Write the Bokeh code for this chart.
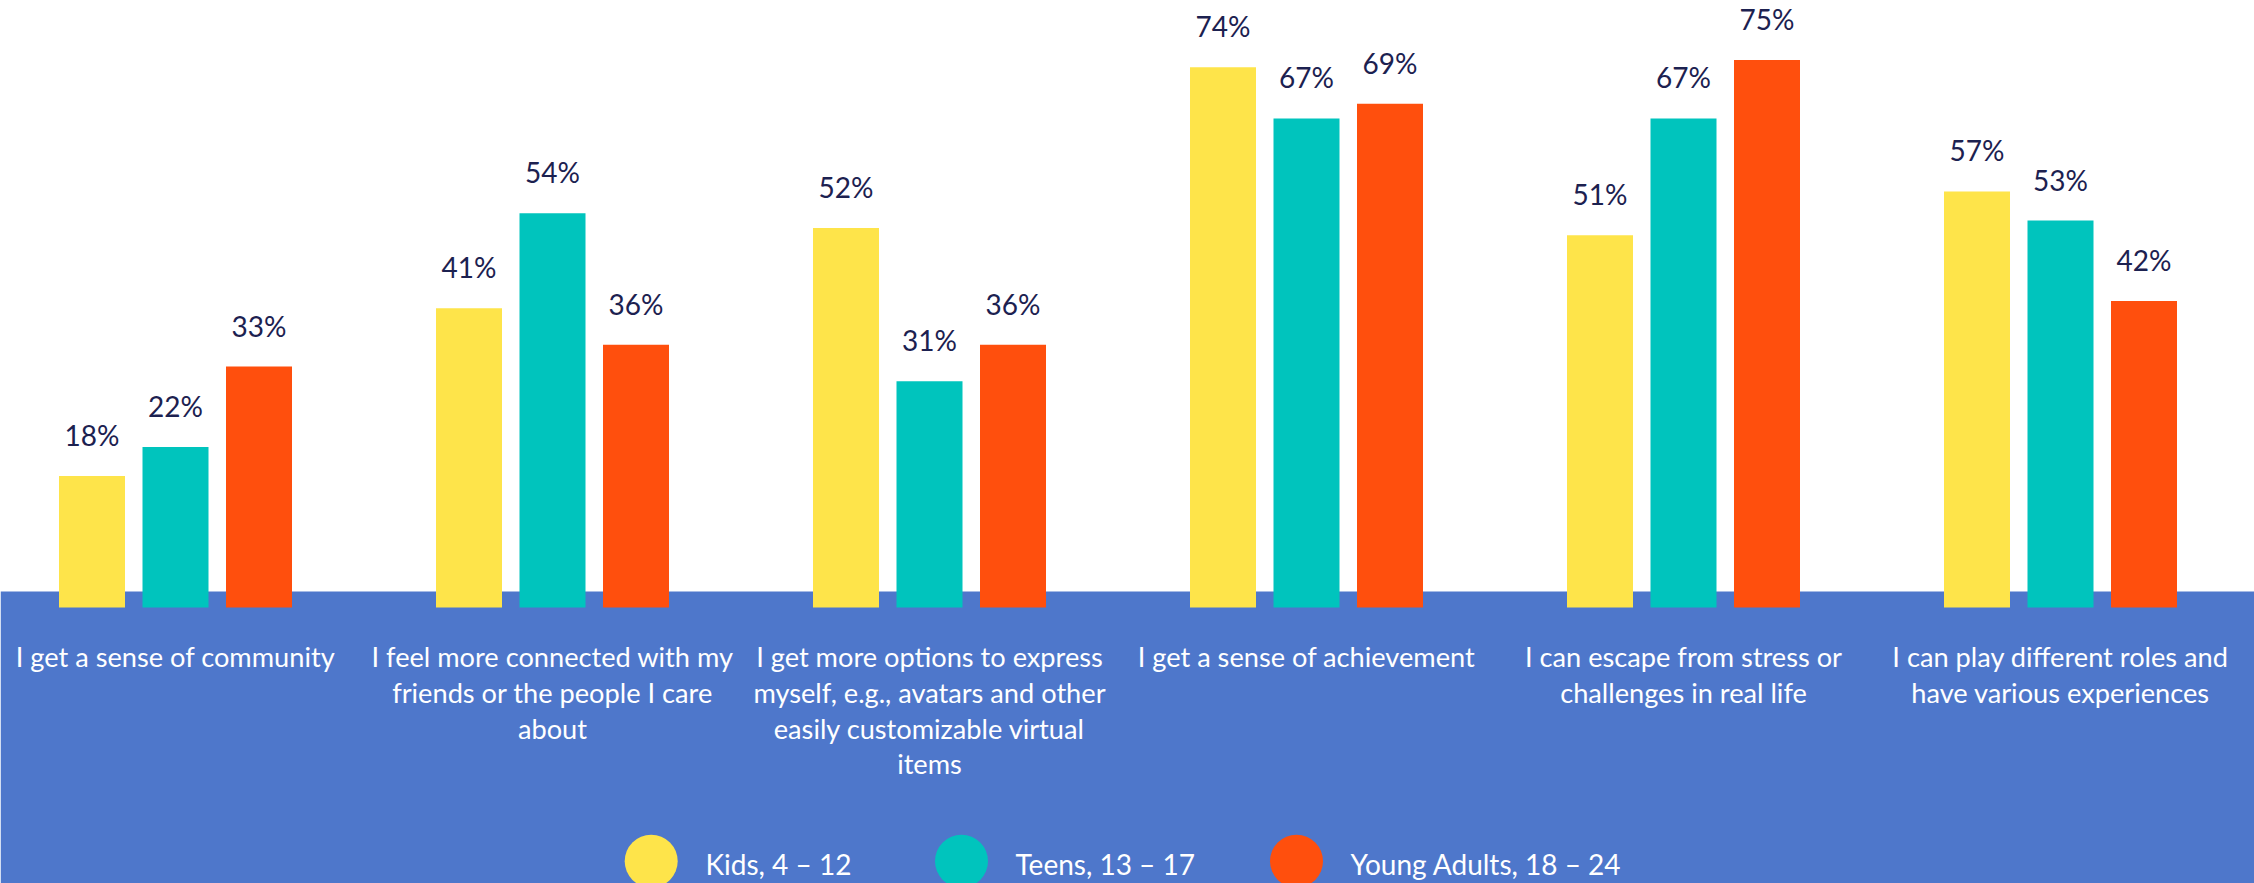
from bokeh.plotting import figure
from bokeh.models import ColumnDataSource, Range1d, BoxAnnotation
from bokeh.transform import dodge
from bokeh.core.properties import value
from bokeh.embed import file_html
from bokeh.resources import INLINE

# ---- data ----
categories = [
    ["I get a sense of community"],
    ["I feel more connected with my", "friends or the people I care", "about"],
    ["I get more options to express", "myself, e.g., avatars and other",
     "easily customizable virtual", "items"],
    ["I get a sense of achievement"],
    ["I can escape from stress or", "challenges in real life"],
    ["I can play different roles and", "have various experiences"],
]
series_names = ["Kids, 4 \u2013 12", "Teens, 13 \u2013 17", "Young Adults, 18 \u2013 24"]
kids = [18, 41, 52, 74, 51, 57]
teens = [22, 54, 31, 67, 67, 53]
young_adults = [33, 36, 36, 69, 75, 42]

# ---- style / layout ----
W, H = 2254, 883
COLORS = ["#FEE44A", "#00C4BD", "#FF4F0D"]
BLUE = "#4E77CB"
NAVY = "#1C2150"
FONT = "Lato"
CAT_PX = 377.0        # pixels per category
FIRST_PX = 175.0      # pixel centre of first category
ZERO_PX = 607.0       # pixel row of value 0
PX_PER_UNIT = 7.3     # pixels per percentage point
BAND_TOP_PX = 591.0
DODGE = 83.5 / CAT_PX
BAR_W = 66.0 / CAT_PX
BASE_FIX = 10.0       # svg baseline correction (px)


def x_of(px):
    return (px - FIRST_PX) / CAT_PX


def y_of(py):
    return (ZERO_PX - py) / PX_PER_UNIT


p = figure(width=W, height=H, output_backend="svg", toolbar_location=None,
           x_range=Range1d(x_of(0), x_of(W)), y_range=Range1d(y_of(H), y_of(0)),
           min_border=0, outline_line_color=None, background_fill_color="white",
           border_fill_color="white")
p.axis.visible = False
p.grid.visible = False

p.add_layout(BoxAnnotation(top=y_of(BAND_TOP_PX), fill_color=BLUE, fill_alpha=1.0,
                           line_color=None, level="underlay"))

idx = list(range(len(categories)))
src = ColumnDataSource(dict(
    idx=idx, kids=kids, teens=teens, ya=young_adults,
    kids_t=[f"{v}%" for v in kids], teens_t=[f"{v}%" for v in teens],
    ya_t=[f"{v}%" for v in young_adults],
))

for k, (col, tcol) in enumerate([("kids", "kids_t"), ("teens", "teens_t"), ("ya", "ya_t")]):
    off = (k - 1) * DODGE
    p.vbar(x=dodge("idx", off, range=p.x_range), top=col, width=BAR_W, bottom=0,
           source=src, fill_color=COLORS[k], line_color=None)
    p.text(x=dodge("idx", off, range=p.x_range), y=col, text=tcol, source=src,
           text_font=value(FONT), text_font_size="28px", text_color=NAVY,
           text_align="center", text_baseline="alphabetic",
           y_offset=-31 - BASE_FIX)

# category labels, one row per line
lx, ly, lt, lo = [], [], [], []
for i, lines in enumerate(categories):
    for j, line in enumerate(lines):
        lx.append(i)
        ly.append(0)
        lt.append(line)
        lo.append(58.7 - BASE_FIX + j * 35.9)
p.text(x="x", y="y", text="t", y_offset="o",
       source=ColumnDataSource(dict(x=lx, y=ly, t=lt, o=lo)),
       text_font=value(FONT), text_font_size="27.2px", text_color="white",
       text_align="center", text_baseline="alphabetic")

# legend
leg_circle_px = [650.7, 961.0, 1296.0]
leg_text_px = [705.0, 1015.0, 1350.0]
leg_y = y_of(860.7)
p.scatter(x=[x_of(v) for v in leg_circle_px], y=[leg_y] * 3, size=53,
          fill_color=COLORS, line_color=None, marker="circle")
p.text(x=[x_of(v) for v in leg_text_px], y=[y_of(873.3 - BASE_FIX)] * 3, text=series_names,
       text_font=value(FONT), text_font_size="28px", text_color="white",
       text_align="left", text_baseline="alphabetic")

open("out.html", "w").write(file_html(p, INLINE))
